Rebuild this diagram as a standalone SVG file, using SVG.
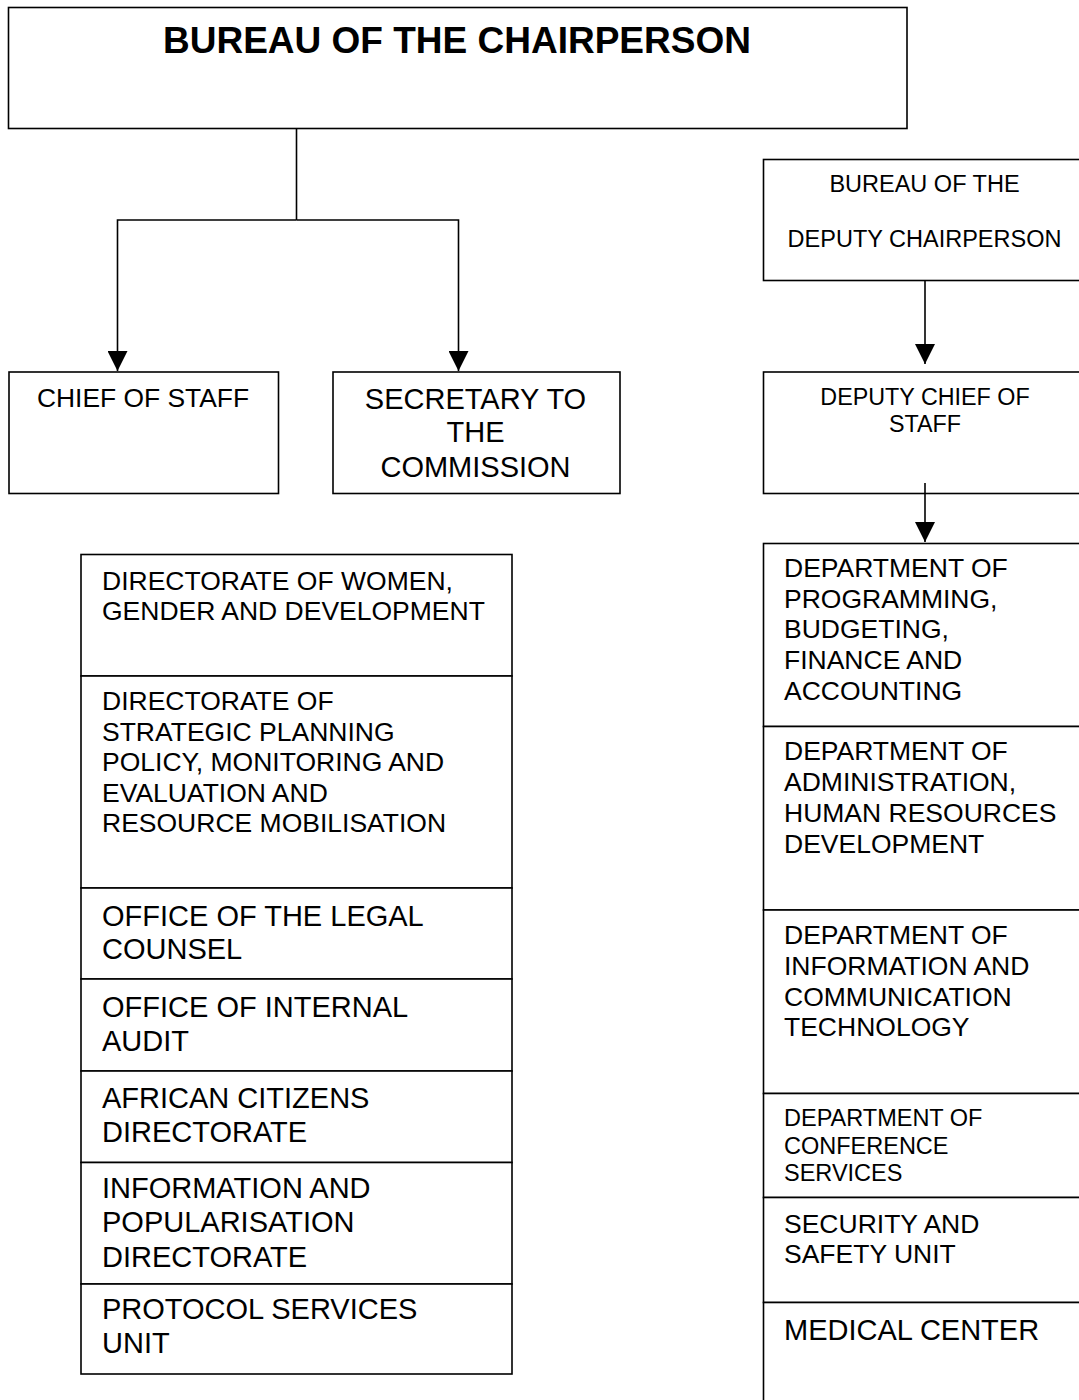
<svg xmlns="http://www.w3.org/2000/svg" width="1079" height="1400" viewBox="0 0 1079 1400">
<style>
  .box { fill: #ffffff; stroke: #000000; stroke-width: 1.6; }
  .t { font-family: "Liberation Sans", Arial, sans-serif; fill: #000000; }
  .title { font-size: 37px; font-weight: bold; text-anchor: middle; }
  .c { text-anchor: middle; }
  .s23 { font-size: 23.5px; }
  .s26 { font-size: 26.5px; }
  .s29 { font-size: 29px; }
  .conn { fill: none; stroke: #000000; stroke-width: 1.6; }
</style>
<defs>
  <marker id="arrow" markerUnits="userSpaceOnUse" markerWidth="20" markerHeight="20" refX="20" refY="10" orient="auto" viewBox="0 0 20 20">
    <path d="M0,0 L20,10 L0,20 z" fill="#000000"/>
  </marker>
</defs>
<rect width="1079" height="1400" fill="#ffffff"/>

<g id="bureau-chairperson">
  <rect class="box" x="8.5" y="7.5" width="898.5" height="121"/>
  <text class="t title" x="457" y="53">BUREAU OF THE CHAIRPERSON</text>
</g>

<g id="chief-of-staff">
  <rect class="box" x="9" y="372" width="269.5" height="121.5"/>
  <text class="t c" style="font-size:26.4px" x="143" y="406.5">CHIEF OF STAFF</text>
</g>

<g id="secretary">
  <rect class="box" x="333" y="372" width="287" height="121.5"/>
  <text class="t c s29" x="475.5" y="408.5">SECRETARY TO</text>
  <text class="t c s29" x="475.5" y="442">THE</text>
  <text class="t c s29" x="475.5" y="476.5">COMMISSION</text>
</g>

<g id="bureau-deputy">
  <rect class="box" x="763.5" y="159.5" width="330" height="121"/>
  <text class="t c s23" x="924.5" y="191.5">BUREAU OF THE</text>
  <text class="t c s23" x="924.5" y="246.5">DEPUTY CHAIRPERSON</text>
</g>

<g id="deputy-chief">
  <rect class="box" x="763.5" y="372" width="330" height="121.5"/>
  <text class="t c" style="font-size:23.3px" x="925" y="405">DEPUTY CHIEF OF</text>
  <text class="t c" style="font-size:23.3px" x="925" y="431.5">STAFF</text>
</g>

<!-- Left column -->
<g id="dir-women">
  <rect class="box" x="81" y="554.5" width="431" height="121.5"/>
  <text class="t s26" x="102" y="589.5">DIRECTORATE OF WOMEN,</text>
  <text class="t s26" x="102" y="620">GENDER AND DEVELOPMENT</text>
</g>
<g id="dir-strategic">
  <rect class="box" x="81" y="676" width="431" height="212"/>
  <text class="t s26" x="102" y="710">DIRECTORATE OF</text>
  <text class="t s26" x="102" y="740.5">STRATEGIC PLANNING</text>
  <text class="t s26" x="102" y="771">POLICY, MONITORING AND</text>
  <text class="t s26" x="102" y="801.5">EVALUATION AND</text>
  <text class="t s26" x="102" y="832">RESOURCE MOBILISATION</text>
</g>
<g id="legal-counsel">
  <rect class="box" x="81" y="888" width="431" height="91"/>
  <text class="t s29" x="102" y="925.5">OFFICE OF THE LEGAL</text>
  <text class="t s29" x="102" y="959">COUNSEL</text>
</g>
<g id="internal-audit">
  <rect class="box" x="81" y="979" width="431" height="92"/>
  <text class="t s29" x="102" y="1016.5">OFFICE OF INTERNAL</text>
  <text class="t s29" x="102" y="1050.5">AUDIT</text>
</g>
<g id="african-citizens">
  <rect class="box" x="81" y="1071" width="431" height="91.5"/>
  <text class="t s29" x="102" y="1107.5">AFRICAN CITIZENS</text>
  <text class="t s29" x="102" y="1141.5">DIRECTORATE</text>
</g>
<g id="info-popularisation">
  <rect class="box" x="81" y="1162.5" width="431" height="121.5"/>
  <text class="t s29" x="102" y="1198">INFORMATION AND</text>
  <text class="t s29" x="102" y="1232">POPULARISATION</text>
  <text class="t s29" x="102" y="1266.5">DIRECTORATE</text>
</g>
<g id="protocol">
  <rect class="box" x="81" y="1284" width="431" height="90"/>
  <text class="t s29" x="102" y="1319">PROTOCOL SERVICES</text>
  <text class="t s29" x="102" y="1353">UNIT</text>
</g>

<!-- Right column -->
<g id="dept-programming">
  <rect class="box" x="763.5" y="543.5" width="330" height="183"/>
  <text class="t s26" x="784" y="577">DEPARTMENT OF</text>
  <text class="t s26" x="784" y="607.5">PROGRAMMING,</text>
  <text class="t s26" x="784" y="638">BUDGETING,</text>
  <text class="t s26" x="784" y="668.5">FINANCE AND</text>
  <text class="t s26" x="784" y="699.5">ACCOUNTING</text>
</g>
<g id="dept-administration">
  <rect class="box" x="763.5" y="726.5" width="330" height="183.5"/>
  <text class="t s26" x="784" y="760">DEPARTMENT OF</text>
  <text class="t s26" x="784" y="791">ADMINISTRATION,</text>
  <text class="t s26" x="784" y="821.5">HUMAN RESOURCES</text>
  <text class="t s26" x="784" y="852.5">DEVELOPMENT</text>
</g>
<g id="dept-ict">
  <rect class="box" x="763.5" y="910" width="330" height="183.5"/>
  <text class="t s26" x="784" y="944">DEPARTMENT OF</text>
  <text class="t s26" x="784" y="975">INFORMATION AND</text>
  <text class="t s26" x="784" y="1005.5">COMMUNICATION</text>
  <text class="t s26" x="784" y="1036">TECHNOLOGY</text>
</g>
<g id="dept-conference">
  <rect class="box" x="763.5" y="1093.5" width="330" height="104"/>
  <text class="t s23" x="784" y="1126">DEPARTMENT OF</text>
  <text class="t s23" x="784" y="1153.5">CONFERENCE</text>
  <text class="t s23" x="784" y="1180.5">SERVICES</text>
</g>
<g id="security">
  <rect class="box" x="763.5" y="1197.5" width="330" height="105"/>
  <text class="t s26" x="784" y="1232.5">SECURITY AND</text>
  <text class="t s26" x="784" y="1263">SAFETY UNIT</text>
</g>
<g id="medical">
  <rect class="box" x="763.5" y="1302.5" width="330" height="120"/>
  <text class="t s29" x="784" y="1339.5">MEDICAL CENTER</text>
</g>

<g id="connectors">
  <path class="conn" d="M296.5,128.5 V220"/>
  <path class="conn" d="M296.5,220 H117.5 V371" marker-end="url(#arrow)"/>
  <path class="conn" d="M296.5,220 H458.5 V371" marker-end="url(#arrow)"/>
  <path class="conn" d="M925,281 V364" marker-end="url(#arrow)"/>
  <path class="conn" d="M925,483 V542" marker-end="url(#arrow)"/>
</g>
</svg>
